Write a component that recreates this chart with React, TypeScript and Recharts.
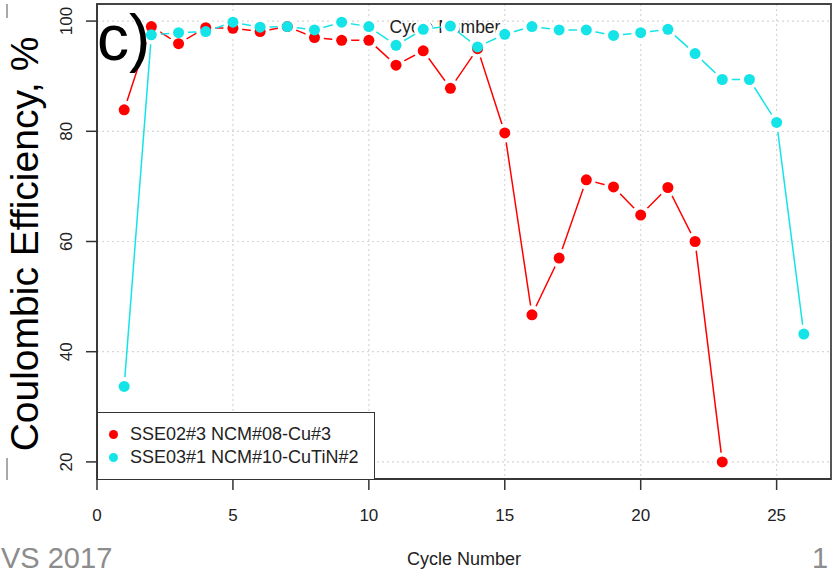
import React from "react";
import {
    LineChart,
    Line,
    XAxis,
    YAxis,
    CartesianGrid,
    ReferenceArea,
    Customized,
} from "recharts";

// cycle numbers and coulombic efficiency (%) per cell
const redCycles = [1, 2, 3, 4, 5, 6, 7, 8, 9, 10, 11, 12, 13, 14, 15, 16, 17, 18, 19, 20, 21, 22, 23];
const redValues = [
    83.9, 99.0, 95.9, 98.8, 98.7, 98.1, 99.0, 97.0, 96.5, 96.5, 92.0, 94.6, 87.8, 95.0, 79.7, 46.7,
    57.0, 71.2, 69.9, 64.8, 69.8, 60.0, 20.0,
];

const cyanCycles = [
    1, 2, 3, 4, 5, 6, 7, 8, 9, 10, 11, 12, 13, 14, 15, 16, 17, 18, 19, 20, 21, 22, 23, 24, 25, 26,
];
const cyanValues = [
    33.7, 97.5, 97.9, 98.1, 99.8, 98.9, 99.0, 98.4, 99.8, 99.0, 95.6, 98.5, 99.1, 95.3, 97.6, 99.0,
    98.4, 98.4, 97.4, 97.9, 98.5, 94.1, 89.4, 89.4, 81.6, 43.2,
];

const seriesNames = ["SSE02#3 NCM#08-Cu#3", "SSE03#1 NCM#10-CuTiN#2"];
const seriesColors = ["#ff0000", "#14e4e8"];

const xTicks = [0, 5, 10, 15, 20, 25];
const yTicks = [20, 40, 60, 80, 100];
const xDomain = [0, 27];
const yDomain = [16.9, 103.1];

const redData = redCycles.map((c, i) => ({ cycle: c, ce: redValues[i] }));
const cyanData = cyanCycles.map((c, i) => ({ cycle: c, ce: cyanValues[i] }));

const FONT = "'Liberation Sans', Arial, Helvetica, sans-serif";
const INK = "#222";

const XTick = (props: any) => {
    const { x, y, payload } = props;
    return (
        <text x={x} y={y + 31} textAnchor="middle" fontSize={17} fontFamily={FONT} fill={INK}>
            {payload.value}
        </text>
    );
};

const YTick = (props: any) => {
    const { x, y, payload } = props;
    const bx = x - 14;
    return (
        <text
            x={bx}
            y={y}
            transform={`rotate(-90, ${bx}, ${y})`}
            textAnchor="middle"
            fontSize={17}
            fontFamily={FONT}
            fill={INK}
        >
            {payload.value}
        </text>
    );
};

export default function App() {
    return (
        <div style={{ position: "absolute", left: 0, top: 0, width: 835, height: 577, background: "#fff", overflow: "hidden" }}>
            <LineChart
                width={835}
                height={577}
                margin={{ top: 4, right: 4, left: 37, bottom: 48 }}
            >
                <CartesianGrid stroke="#d6d6d6" strokeDasharray="2 3" strokeWidth={1.2} />
                <XAxis
                    type="number"
                    dataKey="cycle"
                    domain={xDomain}
                    ticks={xTicks}
                    allowDataOverflow
                    height={50}
                    tickSize={11}
                    tickMargin={0}
                    tick={<XTick />}
                    axisLine={{ stroke: "#333", strokeWidth: 1.5 }}
                    tickLine={{ stroke: "#333", strokeWidth: 1.5 }}
                />
                <YAxis
                    type="number"
                    domain={yDomain}
                    ticks={yTicks}
                    allowDataOverflow
                    width={60}
                    tickSize={11}
                    tickMargin={0}
                    tick={<YTick />}
                    axisLine={{ stroke: "#333", strokeWidth: 1.5 }}
                    tickLine={{ stroke: "#333", strokeWidth: 1.5 }}
                />
                <ReferenceArea
                    x1={xDomain[0]}
                    x2={xDomain[1]}
                    y1={yDomain[0]}
                    y2={yDomain[1]}
                    fill="none"
                    stroke="#444"
                    strokeWidth={1.8}
                    ifOverflow="extendDomain"
                />
                <Customized
                    component={
                        <text x={445} y={33} textAnchor="middle" fontSize={17.5} fontFamily={FONT} fill={INK}>
                            Cycle Number
                        </text>
                    }
                />
                {/* lines, broken around each point by a white halo */}
                <Line
                    data={redData}
                    dataKey="ce"
                    stroke={seriesColors[0]}
                    strokeWidth={1.5}
                    dot={{ r: 9.5, fill: "#fff", stroke: "none" }}
                    activeDot={false}
                    isAnimationActive={false}
                />
                <Line
                    data={cyanData}
                    dataKey="ce"
                    stroke={seriesColors[1]}
                    strokeWidth={1.5}
                    dot={{ r: 9.5, fill: "#fff", stroke: "none" }}
                    activeDot={false}
                    isAnimationActive={false}
                />
                {/* the points themselves */}
                <Line
                    data={redData}
                    dataKey="ce"
                    stroke="none"
                    dot={{ r: 5.5, fill: seriesColors[0], stroke: "none" }}
                    activeDot={false}
                    isAnimationActive={false}
                />
                <Line
                    data={cyanData}
                    dataKey="ce"
                    stroke="none"
                    dot={{ r: 5.5, fill: seriesColors[1], stroke: "none" }}
                    activeDot={false}
                    isAnimationActive={false}
                />
            </LineChart>

            {/* legend box */}
            <div
                style={{
                    position: "absolute",
                    left: 97,
                    top: 412,
                    width: 278,
                    height: 68,
                    boxSizing: "border-box",
                    border: "1.5px solid #333",
                    background: "#fff",
                    fontFamily: FONT,
                    fontSize: 18,
                    color: INK,
                }}
            >
                {seriesNames.map((name, i) => (
                    <div
                        key={name}
                        style={{
                            position: "absolute",
                            left: 0,
                            top: 10 + i * 23.5,
                            height: 22,
                            display: "flex",
                            alignItems: "center",
                            whiteSpace: "nowrap",
                        }}
                    >
                        <span
                            style={{
                                display: "inline-block",
                                width: 9,
                                height: 9,
                                borderRadius: "50%",
                                background: seriesColors[i],
                                marginLeft: 11,
                                marginRight: 12,
                            }}
                        />
                        {name}
                    </div>
                ))}
            </div>

            {/* titles and slide text */}
            <svg
                width={835}
                height={577}
                style={{ position: "absolute", left: 0, top: 0, pointerEvents: "none" }}
                fontFamily={FONT}
            >
                <text x={97} y={60} fontSize={64} fill="#000">
                    c)
                </text>
                <text
                    x={38}
                    y={244}
                    transform="rotate(-90, 38, 244)"
                    textAnchor="middle"
                    fontSize={39}
                    fill="#000"
                >
                    Coulombic Efficiency, %
                </text>
                <text x={464} y={565} textAnchor="middle" fontSize={18} fill={INK}>
                    Cycle Number
                </text>
                <text x={1} y={568} fontSize={29} fill="#8c8c8c">
                    VS 2017
                </text>
                <text x={812} y={568} fontSize={29} fill="#8c8c8c">
                    1
                </text>
                <line x1={7} y1={4} x2={7} y2={18} stroke="#555" strokeWidth={1} />
                <line x1={7} y1={458} x2={7} y2={480} stroke="#555" strokeWidth={1} />
            </svg>
        </div>
    );
}
